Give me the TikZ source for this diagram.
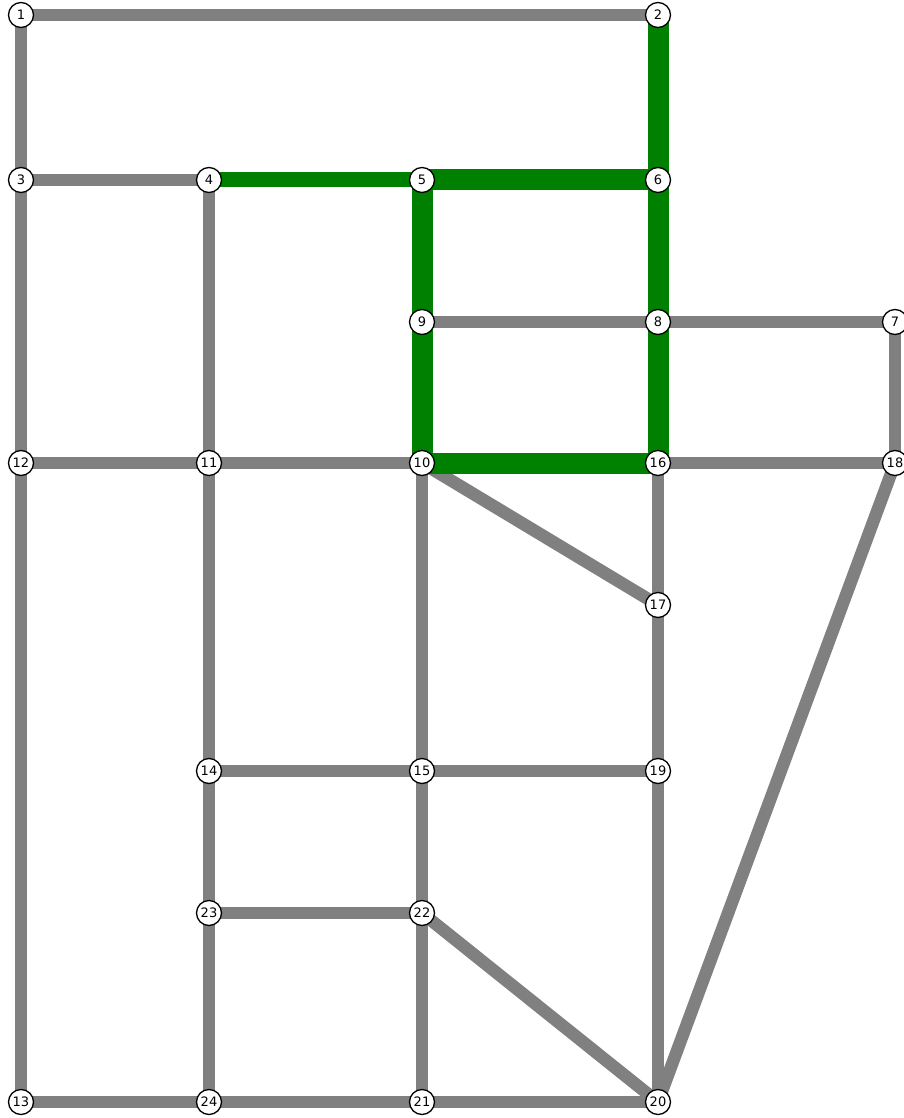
\documentclass[tikz,border=0pt]{standalone}
\usepackage{fontspec}
\setmainfont{DejaVu Sans}
\usetikzlibrary{backgrounds}
\definecolor{roadgray}{RGB}{128,128,128}
\definecolor{routegreen}{RGB}{0,128,0}
\tikzset{
    vertex/.style={circle, draw=black, fill=white, line width=1.3pt, minimum size=25pt, inner sep=0pt, font=\fontsize{13}{13}\selectfont},
    road/.style={line width=12.5pt, color=roadgray},
    route/.style={line width=21pt, color=routegreen},
    routethin/.style={line width=15pt, color=routegreen}
}
\begin{document}
\begin{tikzpicture}[x=1pt, y=-1pt]
    \useasboundingbox (0,0) rectangle (904,1118);

    % Intersections
    \foreach \n/\x/\y in {1/21/15, 2/658/15, 3/21/180, 4/209/180, 5/422/180, 6/658/180,
                          7/895/322, 8/658/322, 9/422/322, 10/422/463, 11/209/463, 12/21/463,
                          13/21/1102, 14/209/771, 15/422/771, 16/658/463, 17/658/605, 18/895/463,
                          19/658/771, 20/658/1102, 21/422/1102, 22/422/913, 23/209/913, 24/209/1102} {
        \node[vertex] (n\n) at (\x,\y) {\n};
    }

    \begin{scope}[on background layer]
        % Streets
        \foreach \a/\b in {1/2, 1/3, 3/4, 3/12, 4/11, 9/8, 8/7, 7/18, 12/11, 11/10,
                           10/17, 10/15, 16/17, 16/18, 18/20, 12/13, 11/14, 14/15, 15/19,
                           17/19, 19/20, 14/23, 15/22, 23/22, 22/20, 22/21, 23/24, 13/24,
                           24/21, 21/20} {
            \draw[road] (n\a.center) -- (n\b.center);
        }
        % Shortest path
        \draw[routethin] (n4.center) -- (n5.center);
        \foreach \a/\b in {2/6, 5/6, 6/8, 8/16, 5/9, 9/10, 10/16} {
            \draw[route] (n\a.center) -- (n\b.center);
        }
    \end{scope}
\end{tikzpicture}
\end{document}
